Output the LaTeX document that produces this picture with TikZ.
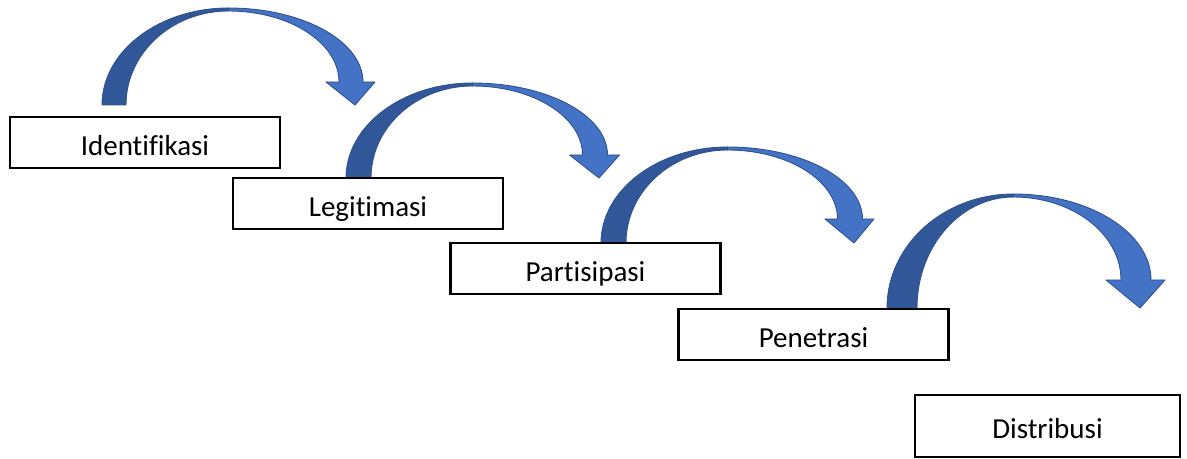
\documentclass[tikz,border=0pt]{standalone}
\usepackage{fontspec}
\setmainfont{Carlito}[Ligatures=CommonOff]
\newlength{\du}
\setlength{\du}{0.02cm}
\definecolor{arrowlight}{RGB}{68,114,196}
\definecolor{arrowdark}{RGB}{50,87,152}
\definecolor{arrowedge}{RGB}{47,82,143}
\tikzset{
  stepbox/.style={draw=black, line width=1.4pt, fill=white, minimum width=270\du,
    minimum height=51\du, inner sep=0pt, text height=14.5pt, text depth=0pt,
    font=\fontsize{16.5}{20}\selectfont},
  arrowback/.style={fill=arrowdark, draw=arrowedge, line width=0.5pt},
  arrowfront/.style={fill=arrowlight, draw=arrowedge, line width=0.5pt, line join=round},
}
% curved arrow: foot x, foot y, band, height, head half width, head depth
\newcommand{\bluecurve}[6]{%
\begin{scope}[shift={(#1,#2)}]
\pgfmathsetmacro{\cvw}{253}
\pgfmathsetmacro{\cvm}{\cvw/2}
\pgfmathsetmacro{\cvt}{-#4}
\pgfmathsetmacro{\cvti}{-#4+3}
\pgfmathsetmacro{\cvd}{-#6}
\pgfmathsetmacro{\cvsr}{\cvw-4+#3/2}
\pgfmathsetmacro{\cvsl}{\cvw-4-#3/2}
\pgfmathsetmacro{\cvhr}{\cvw-4.5+#5}
\pgfmathsetmacro{\cvhl}{\cvw-4.5-#5}
\pgfmathsetmacro{\cvoa}{-0.552*#4}
\pgfmathsetmacro{\cvob}{0.448*\cvm}
\pgfmathsetmacro{\cvia}{\cvm-0.552*(\cvm-#3)}
\pgfmathsetmacro{\cvib}{0.552*\cvti}
\pgfmathsetmacro{\cvra}{\cvm+0.552*(\cvsr-\cvm)}
\pgfmathsetmacro{\cvrb}{\cvd+0.552*(\cvt-\cvd)}
\pgfmathsetmacro{\cvla}{\cvd+0.552*(\cvti-\cvd)}
\pgfmathsetmacro{\cvlb}{\cvm+0.552*(\cvsl-\cvm)}
\fill[arrowfront] (\cvm,\cvt) .. controls (\cvra,\cvt) and (\cvsr,\cvrb) .. (\cvsr,\cvd)
  -- (\cvhr,\cvd) -- (\cvw,0) -- (\cvhl,\cvd) -- (\cvsl,\cvd)
  .. controls (\cvsl,\cvla) and (\cvlb,\cvti) .. (\cvm,\cvti) -- cycle;
\filldraw[arrowback] (0,0) .. controls (0,\cvoa) and (\cvob,\cvt) .. (\cvm,\cvt)
  -- (\cvm,\cvti) .. controls (\cvia,\cvti) and (#3,\cvib) .. (#3,0) -- cycle;
\end{scope}}

\begin{document}
\begin{tikzpicture}[x=\du, y=-\du]
\useasboundingbox (0,0) rectangle (1187,459);
% arrows
\bluecurve{102}{105}{24}{97}{24.5}{23}
\bluecurve{346}{178}{25}{95}{25}{23}
\bluecurve{601}{243}{25}{96}{24.5}{24}
\bluecurve{887}{308}{30}{114}{29.5}{28}
% boxes
\node[stepbox] (ident) at (145,142.5) {Identifikasi};
\node[stepbox] (legit) at (368,203.5) {Legitimasi};
\node[stepbox] (partis) at (585.5,268.5) {Partisipasi};
\node[stepbox] (penet) at (813.5,334.5) {Penetrasi};
\node[stepbox, minimum width=265\du, minimum height=62\du] (distrib) at (1047.5,426) {Distribusi};
\end{tikzpicture}
\end{document}
